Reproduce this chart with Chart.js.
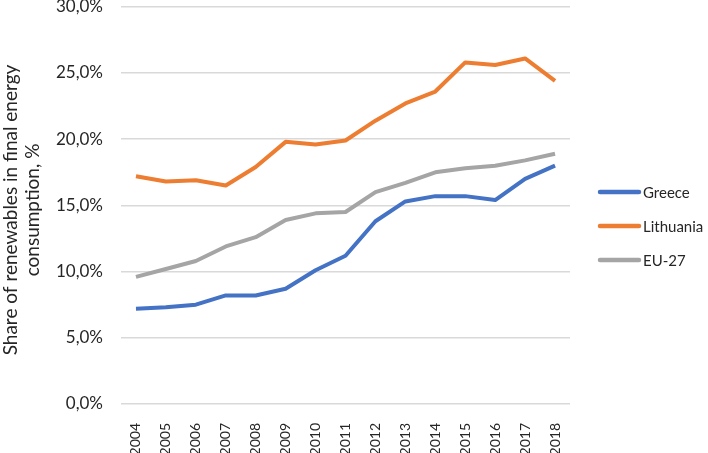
<!DOCTYPE html>
<html>
<head>
<meta charset="utf-8">
<script src="https://cdn.jsdelivr.net/npm/chart.js@4"></script>
<style>
  html, body { margin: 0; padding: 0; background: #fff; }
  #wrap { width: 708px; height: 453px; }
</style>
</head>
<body>
<div id="wrap"><canvas id="chart" width="708" height="453"></canvas></div>
<script>
const years = ['2004','2005','2006','2007','2008','2009','2010','2011','2012','2013','2014','2015','2016','2017','2018'];
const greece = [7.2, 7.3, 7.5, 8.2, 8.2, 8.7, 10.1, 11.2, 13.8, 15.3, 15.7, 15.7, 15.4, 17.0, 18.0];
const lithuania = [17.2, 16.8, 16.9, 16.5, 17.9, 19.8, 19.6, 19.9, 21.4, 22.7, 23.6, 25.8, 25.6, 26.1, 24.4];
const eu27 = [9.6, 10.2, 10.8, 11.9, 12.6, 13.9, 14.4, 14.5, 16.0, 16.7, 17.5, 17.8, 18.0, 18.4, 18.9];
const yTitle = ['Share of renewables in final energy', 'consumption, %'];

const font = "Lato, 'Open Sans', sans-serif";
const textColor = '#262626';

function series(label, values, color) {
    return {
        label: label,
        data: values,
        borderColor: color,
        backgroundColor: color,
        borderWidth: 4,
        pointRadius: 0,
        tension: 0,
        borderJoinStyle: 'round'
    };
}

// legend on the right and the y title, drawn by hand to sit where Excel puts them
const sideText = {
    id: 'sideText',
    afterDraw(chart) {
        const ctx = chart.ctx;
        ctx.save();
        ctx.font = '15px ' + font;
        ctx.textBaseline = 'middle';
        ctx.textAlign = 'left';
        chart.data.datasets.forEach((ds, i) => {
            const y = 192 + i * 34;
            ctx.strokeStyle = ds.borderColor;
            ctx.lineWidth = 4.5;
            ctx.lineCap = 'round';
            ctx.beginPath();
            ctx.moveTo(600, y);
            ctx.lineTo(639, y);
            ctx.stroke();
            ctx.fillStyle = textColor;
            ctx.fillText(ds.label, 643, y + 1);
        });

        ctx.translate(0, 210);
        ctx.rotate(-Math.PI / 2);
        ctx.font = '19px ' + font;
        ctx.textAlign = 'center';
        ctx.fillStyle = textColor;
        yTitle.forEach((line, i) => ctx.fillText(line, 0, 11 + i * 22));
        ctx.restore();
    }
};

new Chart(document.getElementById('chart').getContext('2d'), {
    type: 'line',
    data: {
        labels: years,
        datasets: [
            series('Greece', greece, '#4472C4'),
            series('Lithuania', lithuania, '#ED7D31'),
            series('EU-27', eu27, '#A5A5A5')
        ]
    },
    plugins: [sideText],
    options: {
        responsive: false,
        animation: false,
        layout: { padding: { top: 0, right: 138, left: 0, bottom: 0 } },
        plugins: {
            legend: { display: false },
            tooltip: { enabled: false }
        },
        scales: {
            x: {
                offset: true,
                grid: { display: false },
                border: { display: false },
                afterFit: s => { s.height = 49; },
                ticks: {
                    minRotation: 90,
                    maxRotation: 90,
                    color: textColor,
                    padding: 11,
                    font: { family: font, size: 14 }
                }
            },
            y: {
                min: 0,
                max: 30,
                afterFit: s => { s.width = 121; },
                grid: { color: '#D9D9D9', lineWidth: 1.5, drawTicks: true, tickLength: 18, tickColor: 'rgba(0,0,0,0)' },
                border: { display: false },
                ticks: {
                    stepSize: 5,
                    color: textColor,
                    padding: 0,
                    font: { family: font, size: 17, lineHeight: 0.8 },
                    callback: v => v.toFixed(1).replace('.', ',') + '%'
                }
            }
        }
    }
});
</script>
</body>
</html>
